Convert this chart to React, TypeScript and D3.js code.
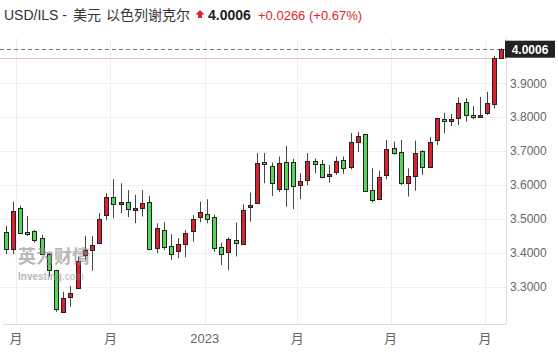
import React from "react";
import * as d3 from "d3";

const startDate = new Date(2022, 5, 21);
const opens = [3.460,3.411,3.531,3.461,3.464,3.445,3.397,3.349,3.226,3.271,3.297,3.394,3.408,3.430,3.512,3.564,3.543,3.551,3.526,3.533,3.549,3.415,3.467,3.420,3.405,3.426,3.463,3.505,3.515,3.505,3.416,3.402,3.438,3.425,3.534,3.548,3.667,3.656,3.589,3.667,3.667,3.601,3.615,3.672,3.661,3.627,3.638,3.674,3.652,3.728,3.750,3.585,3.558,3.630,3.710,3.698,3.607,3.627,3.700,3.654,3.733,3.795,3.789,3.797,3.844,3.807,3.802,3.812,3.839,3.974];
const highs = [3.480,3.551,3.539,3.509,3.467,3.453,3.400,3.350,3.285,3.302,3.389,3.450,3.450,3.517,3.576,3.617,3.605,3.585,3.571,3.585,3.568,3.487,3.491,3.455,3.443,3.467,3.511,3.551,3.558,3.512,3.430,3.446,3.489,3.543,3.578,3.694,3.694,3.666,3.684,3.715,3.677,3.635,3.694,3.678,3.674,3.659,3.684,3.684,3.753,3.757,3.750,3.649,3.642,3.733,3.728,3.733,3.649,3.731,3.703,3.741,3.797,3.813,3.810,3.858,3.856,3.833,3.860,3.875,3.981,4.003];
const lows = [3.396,3.396,3.455,3.450,3.430,3.394,3.330,3.226,3.225,3.241,3.296,3.379,3.347,3.429,3.497,3.502,3.517,3.505,3.487,3.507,3.410,3.399,3.408,3.379,3.384,3.387,3.433,3.490,3.487,3.403,3.364,3.349,3.389,3.423,3.492,3.543,3.605,3.568,3.580,3.536,3.529,3.558,3.600,3.635,3.620,3.607,3.630,3.633,3.646,3.697,3.582,3.548,3.557,3.617,3.689,3.600,3.566,3.583,3.630,3.652,3.718,3.753,3.774,3.777,3.787,3.794,3.800,3.807,3.826,3.972];
const closes = [3.410,3.524,3.458,3.455,3.438,3.397,3.349,3.234,3.268,3.282,3.376,3.407,3.423,3.499,3.564,3.543,3.551,3.528,3.531,3.546,3.411,3.472,3.418,3.397,3.426,3.458,3.500,3.520,3.501,3.415,3.396,3.440,3.428,3.526,3.540,3.664,3.661,3.605,3.664,3.587,3.597,3.612,3.671,3.661,3.625,3.633,3.671,3.649,3.727,3.745,3.582,3.556,3.623,3.706,3.695,3.605,3.627,3.694,3.654,3.728,3.797,3.789,3.795,3.843,3.807,3.802,3.807,3.841,3.974,4.001];
const yTicks = [3.3, 3.4, 3.5, 3.6, 3.7, 3.8, 3.9];
const lastPrice = 4.0006;
const prevClose = 3.974;
const titleMain = "USD/ILS - ";
const titleCn1 = "美元";
const titleCn2 = "以色列谢克尔";
const priceText = "4.0006";
const changeText = "+0.0266 (+0.67%)";

const W = 558, H = 356;
const plotRight = 506, plotTop = 38, plotBottom = 324.5;
const RED = "#dd1f2e";
const GREEN = "#55d65a";
const FONT = "'Liberation Sans', Arial, 'Noto Sans CJK SC', sans-serif";
const CJK = "'Noto Sans CJK SC', sans-serif";

export default function App() {
  const dates = opens.map((_, i) => d3.timeDay.offset(startDate, 7 * i));
  const x = d3.scaleTime().domain([new Date(2022, 6, 1), new Date(2023, 9, 1)]).range([16, 485]);
  const y = d3.scaleLinear().domain([3.3, 3.9]).range([286.7, 83.3]);
  const xTicks = d3.timeMonth.every(3)!.range(new Date(2022, 6, 1), new Date(2023, 9, 2));
  const fmtTick = (d: Date) => (d.getMonth() === 0 ? d3.timeFormat("%Y")(d) : "月");

  const yLast = y(lastPrice);
  const yPrev = y(prevClose);

  return (
    <svg width={W} height={H} style={{ position: "absolute", left: 0, top: 0, background: "#fff" }} fontFamily={FONT}>
      {/* header */}
      <text x={4} y={20} fontSize={14} fill="#333">
        <tspan>{titleMain}</tspan>
        <tspan x={73} fontFamily={CJK}>{titleCn1}</tspan>
        <tspan x={106} fontFamily={CJK}>{titleCn2}</tspan>
      </text>
      <path d="M200,10 L204.5,14.5 L202,14.5 L202,18 L198,18 L198,14.5 L195.5,14.5 Z" fill={RED} />
      <text x={208} y={20} fontSize={14} fontWeight="bold" fill="#222">{priceText}</text>
      <text x={258} y={20} fontSize={13} fill={RED}>{changeText}</text>

      {/* grid */}
      {yTicks.map((t) => (
        <line key={"hg" + t} x1={0} x2={plotRight} y1={Math.round(y(t)) + 0.5} y2={Math.round(y(t)) + 0.5} stroke="#efefef" />
      ))}
      {xTicks.map((d, i) => (
        <line key={"vg" + i} x1={Math.round(x(d)) + 0.5} x2={Math.round(x(d)) + 0.5} y1={plotTop} y2={plotBottom} stroke="#efefef" />
      ))}
      <line x1={plotRight + 0.5} x2={plotRight + 0.5} y1={plotTop} y2={plotBottom} stroke="#e0e0e0" />
      <line x1={3} x2={plotRight} y1={plotBottom} y2={plotBottom} stroke="#dcdcdc" />

      {/* prev close & last price lines */}
      <line x1={0} x2={plotRight} y1={Math.round(yPrev) + 0.5} y2={Math.round(yPrev) + 0.5} stroke="#f3b5b5" />
      <line x1={0} x2={plotRight} y1={Math.round(yLast) + 0.5} y2={Math.round(yLast) + 0.5} stroke="#777" strokeDasharray="4,3" />

      {/* candles */}
      {dates.map((d, i) => {
        const cx = Math.round(x(d)) + 0.5;
        const o = opens[i], c = closes[i];
        const up = c >= o;
        const top = Math.round(y(Math.max(o, c)));
        const bot = Math.round(y(Math.min(o, c)));
        const h = Math.max(bot - top, 2);
        return (
          <g key={i}>
            <line x1={cx} x2={cx} y1={y(highs[i])} y2={y(lows[i])} stroke="#444" strokeWidth={1} />
            <rect x={cx - 2} y={top + 0.5} width={4} height={h} fill={up ? RED : GREEN} stroke="#222" strokeWidth={1} />
          </g>
        );
      })}

      {/* watermark */}
      <g opacity={0.6}>
        <text x={18} y={263} fontSize={18} fontWeight="bold" fill="#8a8a8a" fontFamily={CJK}>英为财情</text>
        <text x={18} y={280} fontSize={10} fill="#8a8a8a">
          <tspan fontWeight="bold">Investing</tspan>
          <tspan>.com</tspan>
        </text>
      </g>

      {/* y axis labels */}
      {yTicks.map((t) => (
        <text key={"yl" + t} x={510} y={y(t)} dy="0.35em" fontSize={12} fill="#666">{d3.format(".4f")(t)}</text>
      ))}
      <rect x={505} y={yLast - 8.5} width={50} height={17} fill="#222" />
      <text x={530} y={yLast} dy="0.36em" textAnchor="middle" fontSize={12} fontWeight="bold" fill="#fff">{d3.format(".4f")(lastPrice)}</text>

      {/* x axis labels */}
      {xTicks.map((d, i) => (
        <text key={"xl" + i} x={x(d)} y={343} textAnchor="middle" fontSize={13} fill="#666" fontFamily={d.getMonth() === 0 ? FONT : CJK}>{fmtTick(d)}</text>
      ))}
    </svg>
  );
}
